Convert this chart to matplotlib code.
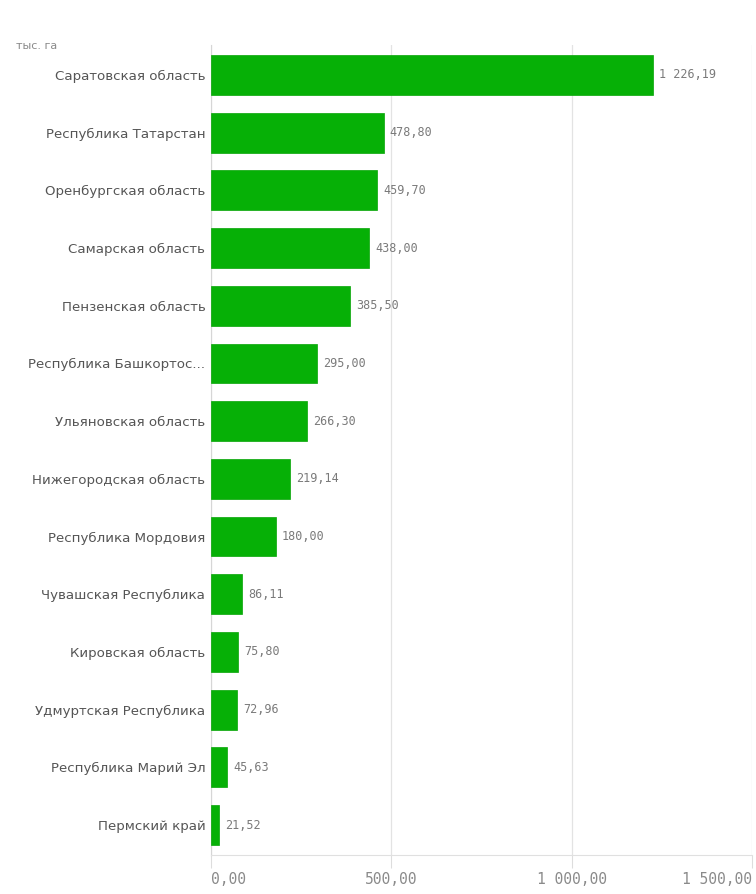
import matplotlib.pyplot as plt
from matplotlib import transforms

regions = [
    'Саратовская область', 'Республика Татарстан', 'Оренбургская область',
    'Самарская область', 'Пензенская область', 'Республика Башкортос...',
    'Ульяновская область', 'Нижегородская область', 'Республика Мордовия',
    'Чувашская Республика', 'Кировская область', 'Удмуртская Республика',
    'Республика Марий Эл', 'Пермский край',
]
values = [1226.19, 478.80, 459.70, 438.00, 385.50, 295.00, 266.30,
          219.14, 180.00, 86.11, 75.80, 72.96, 45.63, 21.52]
x_ticks = [0, 500, 1000, 1500]


def ru_num(v):
    # 1226.19 -> "1 226,19"
    return f"{v:,.2f}".replace(',', ' ').replace('.', ',')


fig = plt.figure(figsize=(7.56, 8.94), dpi=100)
ax = fig.add_axes([0.279, 0.0436, 0.7157, 0.9061])

y = list(range(len(regions)))
ax.barh(y, values, height=0.69, color='#06b006', edgecolor='#06a406', linewidth=0.5, zorder=3)

for yi, v in zip(y, values):
    ax.text(v + 17, yi, ru_num(v), va='center', ha='left', fontsize=8.5,
            family='DejaVu Sans Mono', color='#7a7a7a')

ax.set_ylim(13.52, -0.52)
ax.set_xlim(0, 1500)
ax.set_yticks(y)
ax.set_yticklabels(regions, fontsize=9.6, color='#555555')
ax.tick_params(axis='y', length=0, pad=4)

ax.set_xticks(x_ticks)
ax.set_xticklabels([])
ax.tick_params(axis='x', length=9.5, width=0.8, color='#dddddd')
ax.grid(axis='x', color='#e3e3e3', linewidth=0.9, zorder=0)

for side in ['top', 'right']:
    ax.spines[side].set_visible(False)
ax.spines['left'].set_color('#d6d6d6')
ax.spines['bottom'].set_color('#e0e0e0')

# tick labels: first left aligned, last right aligned, middle centred
trans = transforms.blended_transform_factory(ax.transData, ax.transAxes)
for i, t in enumerate(x_ticks):
    ha = 'left' if i == 0 else ('right' if i == len(x_ticks) - 1 else 'center')
    ax.text(t, -0.03, ru_num(t), transform=trans, ha=ha, va='center',
            fontsize=10.5, family='DejaVu Sans Mono', color='#8a8a8a')

fig.text(0.021, 0.949, 'тыс. га', fontsize=8, color='#8a8a8a', va='center')

fig.savefig('out.png', dpi=100)
